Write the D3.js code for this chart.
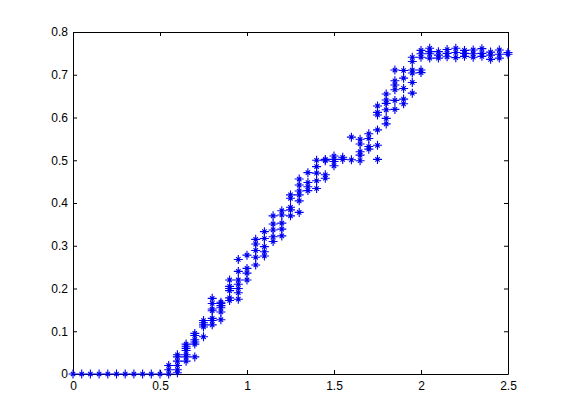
<!DOCTYPE html>
<html>
<head>
<meta charset="utf-8">
<script src="https://cdn.jsdelivr.net/npm/d3@7"></script>
<style>
    html, body { margin: 0; padding: 0; background: #fff; }
    svg { display: block; }
    text { font-family: "Liberation Sans", sans-serif; font-size: 12px; fill: #000; }
</style>
</head>
<body>
<svg id="chart" width="561" height="420"></svg>
<script>
const WIDTH = 561, HEIGHT = 420;
const MARGIN = {left: 73, right: 53, top: 32, bottom: 46};
const MARKER_R = 4.5;

const xTicks = [0, 0.5, 1, 1.5, 2, 2.5];
const yTicks = [0, 0.1, 0.2, 0.3, 0.4, 0.5, 0.6, 0.7, 0.8];

// readings per column, x goes in steps of 0.05
const zeroX = [0, 0.05, 0.1, 0.15, 0.2, 0.25, 0.3, 0.35, 0.4, 0.45, 0.5];
const columnX = [0.55, 0.6, 0.65, 0.7, 0.75, 0.8, 0.85, 0.9, 0.95, 1, 1.05, 1.1, 1.15, 1.2, 1.25,
    1.3, 1.35, 1.4, 1.45, 1.5, 1.55, 1.6, 1.65, 1.7, 1.75, 1.8, 1.85, 1.9, 1.95, 2, 2.05, 2.1,
    2.15, 2.2, 2.25, 2.3, 2.35, 2.4, 2.45, 2.5];
const columnY = [
    [0, 0.01, 0.02],
    [0.003, 0.01, 0.02, 0.03, 0.04, 0.045],
    [0.03, 0.04, 0.045, 0.055, 0.06, 0.065, 0.07],
    [0.04, 0.07, 0.075, 0.08, 0.09, 0.095],
    [0.087, 0.11, 0.115, 0.12, 0.125],
    [0.115, 0.125, 0.13, 0.148, 0.152, 0.165, 0.177],
    [0.127, 0.145, 0.155, 0.16, 0.165, 0.168],
    [0.172, 0.178, 0.195, 0.2, 0.205, 0.22],
    [0.175, 0.19, 0.2, 0.21, 0.22, 0.24, 0.268],
    [0.22, 0.236, 0.247, 0.278],
    [0.255, 0.273, 0.289, 0.304, 0.315],
    [0.276, 0.286, 0.298, 0.317, 0.333],
    [0.31, 0.321, 0.337, 0.351, 0.37],
    [0.323, 0.339, 0.353, 0.372, 0.382],
    [0.37, 0.384, 0.39, 0.411, 0.419],
    [0.378, 0.405, 0.419, 0.428, 0.442, 0.456],
    [0.429, 0.438, 0.448, 0.471],
    [0.434, 0.452, 0.47, 0.485, 0.5],
    [0.458, 0.466, 0.499, 0.502],
    [0.487, 0.497, 0.502, 0.51],
    [0.502, 0.507],
    [0.501, 0.554],
    [0.499, 0.512, 0.52, 0.538, 0.549],
    [0.526, 0.532, 0.551, 0.562],
    [0.502, 0.535, 0.571, 0.606, 0.612, 0.627],
    [0.585, 0.598, 0.618, 0.633, 0.641, 0.655],
    [0.619, 0.64, 0.665, 0.676, 0.686, 0.711],
    [0.632, 0.643, 0.668, 0.692, 0.71],
    [0.657, 0.682, 0.704, 0.711, 0.731, 0.741],
    [0.705, 0.711, 0.741, 0.749, 0.757],
    [0.739, 0.749, 0.754, 0.762],
    [0.739, 0.746, 0.754],
    [0.742, 0.75, 0.759],
    [0.74, 0.752, 0.762],
    [0.743, 0.75, 0.757],
    [0.741, 0.749, 0.758],
    [0.743, 0.75, 0.761],
    [0.736, 0.746, 0.753],
    [0.739, 0.748, 0.758],
    [0.748, 0.752]
];

const svg = d3.select('#chart');

const x = d3.scaleLinear().domain([0, 2.5]).range([MARGIN.left, WIDTH - MARGIN.right]);
const y = d3.scaleLinear().domain([0, 0.8]).range([HEIGHT - MARGIN.bottom, MARGIN.top]);

// matlab style '*' marker, long + with a short x in the middle
const star = {
    draw(ctx) {
        const r = MARKER_R, d = 2.2;
        ctx.moveTo(-r, 0); ctx.lineTo(r, 0);
        ctx.moveTo(0, -r); ctx.lineTo(0, r);
        ctx.moveTo(-d, -d); ctx.lineTo(d, d);
        ctx.moveTo(-d, d); ctx.lineTo(d, -d);
    }
};
const markerPath = d3.symbol().type(star)();

const points = zeroX.map(v => [v, 0]);
columnX.forEach((cx, i) => columnY[i].forEach(v => points.push([cx, v])));

// top and right edges carry ticks too, like the bottom and left ones
const axisBottom = d3.axisBottom(x).tickValues(xTicks).tickFormat(d => d3.format('~g')(d))
    .tickSizeInner(-4).tickSizeOuter(0).tickPadding(7);
const axisLeft = d3.axisLeft(y).tickValues(yTicks).tickFormat(d => d3.format('~g')(d))
    .tickSizeInner(-4).tickSizeOuter(0).tickPadding(5);
const axisTop = d3.axisTop(x).tickValues(xTicks).tickFormat('').tickSizeInner(-4).tickSizeOuter(0);
const axisRight = d3.axisRight(y).tickValues(yTicks).tickFormat('').tickSizeInner(-4).tickSizeOuter(0);

svg.append('g').attr('transform', `translate(0,${y(0)})`).call(axisBottom);
svg.append('g').attr('transform', `translate(${x(0)},0)`).call(axisLeft);
svg.append('g').attr('transform', `translate(0,${y(0.8)})`).call(axisTop);
svg.append('g').attr('transform', `translate(${x(2.5)},0)`).call(axisRight);

svg.selectAll('.tick text').style('font-size', '12px').style('font-family', '"Liberation Sans", sans-serif');

svg.append('g').selectAll('path')
    .data(points)
    .join('path')
    .attr('d', markerPath)
    .attr('transform', d => `translate(${x(d[0])},${y(d[1])})`)
    .attr('fill', 'none')
    .attr('stroke', '#0000f0')
    .attr('stroke-width', 1.1);
</script>
</body>
</html>
